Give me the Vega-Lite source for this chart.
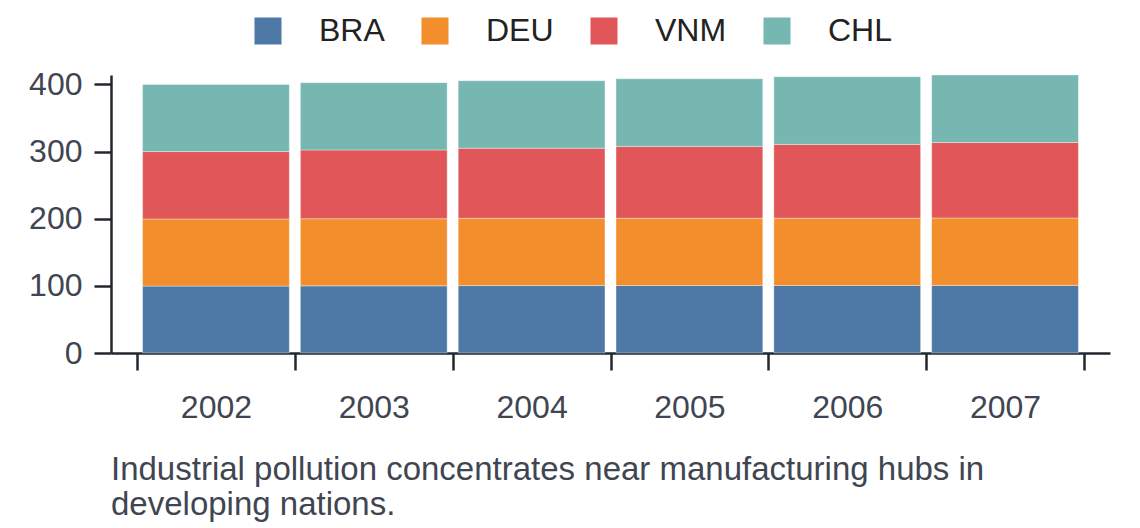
{
  "$schema": "https://vega.github.io/schema/vega-lite/v6.json",
  "description": "Stacked bars of industrial pollution by country, 2002-2007.",
  "autosize": "none",
  "width": 999,
  "height": 278,
  "padding": {"left": 111, "top": 75, "right": 30, "bottom": 175},
  "background": "white",
  "config": {
    "view": {"stroke": "transparent"},
    "font": "Liberation Sans"
  },
  "title": {
    "text": ["Industrial pollution concentrates near manufacturing hubs in", "developing nations."],
    "orient": "bottom",
    "anchor": "start",
    "frame": "group",
    "fontSize": 33,
    "fontWeight": "normal",
    "color": "#3f4652",
    "lineHeight": 35,
    "offset": 31
  },
  "datasets": {
    "countries": [
      {"country": "BRA", "rank": 1},
      {"country": "DEU", "rank": 2},
      {"country": "VNM", "rank": 3},
      {"country": "CHL", "rank": 4}
    ]
  },
  "data": {
    "values": [
      {"year": "2002", "country": "BRA", "value": 99.6},
      {"year": "2002", "country": "DEU", "value": 100},
      {"year": "2002", "country": "VNM", "value": 100.4},
      {"year": "2002", "country": "CHL", "value": 99.8},
      {"year": "2003", "country": "BRA", "value": 100},
      {"year": "2003", "country": "DEU", "value": 100},
      {"year": "2003", "country": "VNM", "value": 102.4},
      {"year": "2003", "country": "CHL", "value": 100.2},
      {"year": "2004", "country": "BRA", "value": 100.4},
      {"year": "2004", "country": "DEU", "value": 100.2},
      {"year": "2004", "country": "VNM", "value": 104.4},
      {"year": "2004", "country": "CHL", "value": 100.4},
      {"year": "2005", "country": "BRA", "value": 100.5},
      {"year": "2005", "country": "DEU", "value": 100.2},
      {"year": "2005", "country": "VNM", "value": 107},
      {"year": "2005", "country": "CHL", "value": 100.6},
      {"year": "2006", "country": "BRA", "value": 100.6},
      {"year": "2006", "country": "DEU", "value": 100.2},
      {"year": "2006", "country": "VNM", "value": 109.8},
      {"year": "2006", "country": "CHL", "value": 100.8},
      {"year": "2007", "country": "BRA", "value": 100.7},
      {"year": "2007", "country": "DEU", "value": 100.4},
      {"year": "2007", "country": "VNM", "value": 112.4},
      {"year": "2007", "country": "CHL", "value": 100.5}
    ]
  },
  "transform": [
    {
      "lookup": "country",
      "from": {"data": {"name": "countries"}, "key": "country", "fields": ["rank"]}
    }
  ],
  "mark": {
    "type": "bar",
    "width": {"band": 0.93},
    "stroke": "#ffffff",
    "strokeWidth": 0.6,
    "strokeOpacity": 0.6
  },
  "encoding": {
    "x": {
      "field": "year",
      "type": "nominal",
      "scale": {"paddingInner": 0, "paddingOuter": 0.165},
      "axis": {
        "title": null,
        "labelAngle": 0,
        "labelFontSize": 32,
        "labelColor": "#3f4652",
        "labelPadding": 22,
        "tickBand": "extent",
        "tickSize": 17,
        "tickWidth": 2.5,
        "tickColor": "#23272d",
        "domainWidth": 2.5,
        "domainColor": "#23272d"
      }
    },
    "y": {
      "field": "value",
      "type": "quantitative",
      "stack": "zero",
      "scale": {"nice": false, "zero": true},
      "axis": {
        "title": null,
        "values": [0, 100, 200, 300, 400],
        "grid": false,
        "labelFontSize": 32,
        "labelColor": "#3f4652",
        "labelPadding": 12,
        "tickSize": 17,
        "tickWidth": 2.5,
        "tickColor": "#23272d",
        "domainWidth": 2.5,
        "domainColor": "#23272d"
      }
    },
    "color": {
      "field": "country",
      "type": "nominal",
      "scale": {
        "domain": ["BRA", "DEU", "VNM", "CHL"],
        "range": ["#4e79a7", "#f28e2b", "#e15759", "#76b7b2"]
      },
      "legend": {
        "title": null,
        "orient": "none",
        "direction": "horizontal",
        "legendX": 141,
        "legendY": -60,
        "symbolType": "square",
        "symbolSize": 729,
        "symbolStrokeWidth": 0,
        "symbolOpacity": 1,
        "labelFontSize": 32,
        "labelColor": "#222222",
        "labelOffset": 35,
        "columnPadding": 34
      }
    },
    "order": {"field": "rank", "type": "quantitative", "sort": "ascending"}
  }
}
